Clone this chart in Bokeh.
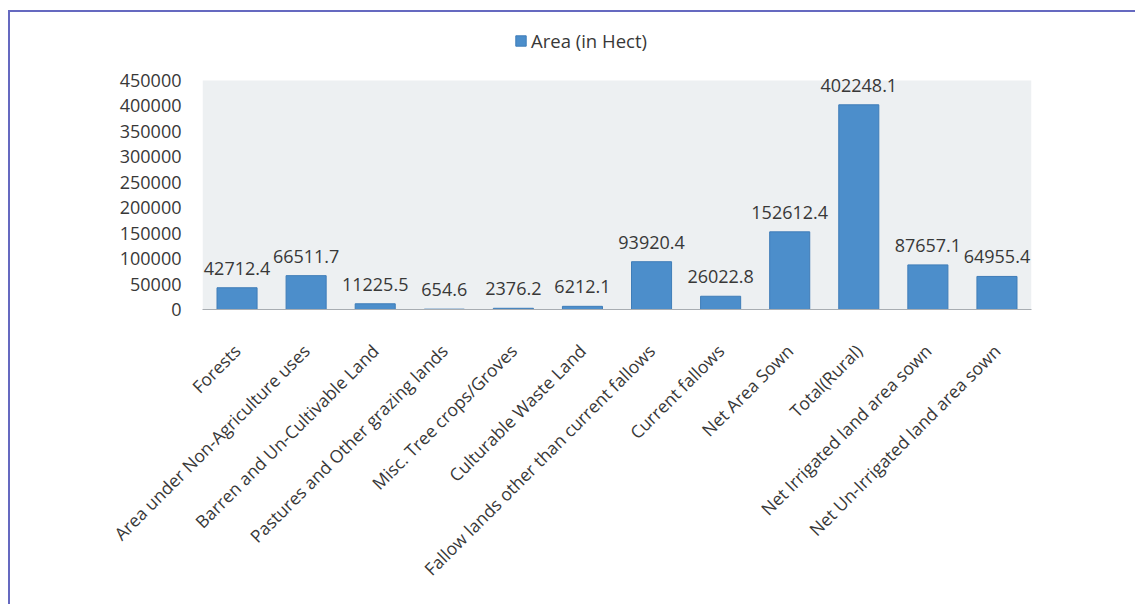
from math import pi
from bokeh.plotting import figure
from bokeh.core.properties import value
from bokeh.models import (ColumnDataSource, FactorRange, Range1d, FixedTicker,
                          BasicTickFormatter, LabelSet, Legend, LegendItem, BoxAnnotation)
from bokeh.embed import file_html
from bokeh.resources import INLINE

categories = [
    "Forests",
    "Area under Non-Agriculture uses",
    "Barren and Un-Cultivable Land",
    "Pastures and Other grazing lands",
    "Misc. Tree crops/Groves",
    "Culturable Waste Land",
    "Fallow lands other than current fallows",
    "Current fallows",
    "Net Area Sown",
    "Total(Rural)",
    "Net Irrigated land area sown",
    "Net Un-Irrigated land area sown",
]
areas = [42712.4, 66511.7, 11225.5, 654.6, 2376.2, 6212.1,
         93920.4, 26022.8, 152612.4, 402248.1, 87657.1, 64955.4]
area_labels = [f"{v}" for v in areas]
y_ticks = [0, 50000, 100000, 150000, 200000, 250000, 300000, 350000, 400000, 450000]
y_axis_max = 450000

FONT = "Open Sans"
TXT = "#383838"

# frame extends above the axis maximum to hold the legend (like the source's chart area)
frame_top_px, axis_top_px, axis_bottom_px = 25, 80, 309
y_view_max = y_axis_max * (axis_bottom_px - frame_top_px) / (axis_bottom_px - axis_top_px)

src = ColumnDataSource(dict(cat=categories, area=areas, lab=area_labels))

p = figure(
    x_range=FactorRange(*categories),
    y_range=Range1d(0, y_view_max),
    width=1127, height=594,
    output_backend="svg", toolbar_location=None,
    min_border_left=192, min_border_right=106,
    min_border_top=frame_top_px - 12, min_border_bottom=297,
    background_fill_color="white",
    border_fill_color="white",
    outline_line_color=None,
    styles={"margin-left": "8px", "margin-top": "10px",
            "border-left": "2px solid #6569c0", "border-top": "2px solid #6569c0"},
)

p.add_layout(BoxAnnotation(bottom=0, top=y_axis_max, fill_color="#edf0f2",
                           fill_alpha=1, line_color=None, level="underlay"))

r = p.vbar(x="cat", top="area", width=0.58, source=src,
           fill_color="#4c8ecb", line_color="#3f7db8", line_width=1)

labels = LabelSet(x="cat", y="area", text="lab", source=src,
                  text_align="center", text_baseline="bottom", y_offset=13,
                  text_font=value(FONT), text_font_size="18px", text_color=TXT)
p.add_layout(labels)

p.xgrid.grid_line_color = None
p.ygrid.grid_line_color = None

p.yaxis.ticker = FixedTicker(ticks=y_ticks)
p.yaxis.formatter = BasicTickFormatter(use_scientific=False)
p.yaxis.axis_line_color = None
p.yaxis.major_tick_line_color = None
p.yaxis.minor_tick_line_color = None
p.yaxis.major_label_text_font = FONT
p.yaxis.major_label_text_font_size = "18px"
p.yaxis.major_label_text_color = TXT
p.yaxis.major_label_standoff = 15

p.xaxis.axis_line_color = "#a8adb2"
p.xaxis.major_tick_line_color = None
p.xaxis.minor_tick_line_color = None
p.xaxis.major_label_orientation = pi / 4
p.xaxis.major_label_text_font = FONT
p.xaxis.major_label_text_font_size = "17.5px"
p.xaxis.major_label_text_color = TXT
p.xaxis.major_label_standoff = 32

legend = Legend(items=[LegendItem(label="Area (in Hect)", renderers=[r])],
                orientation="horizontal", location=(312, 256),
                label_text_font=FONT, label_text_font_size="18.5px",
                label_text_color=TXT, glyph_width=13, glyph_height=13,
                border_line_color=None, background_fill_alpha=0,
                margin=0, padding=4, label_standoff=4)
p.add_layout(legend, "center")

open("out.html", "w").write(file_html(p, INLINE))
